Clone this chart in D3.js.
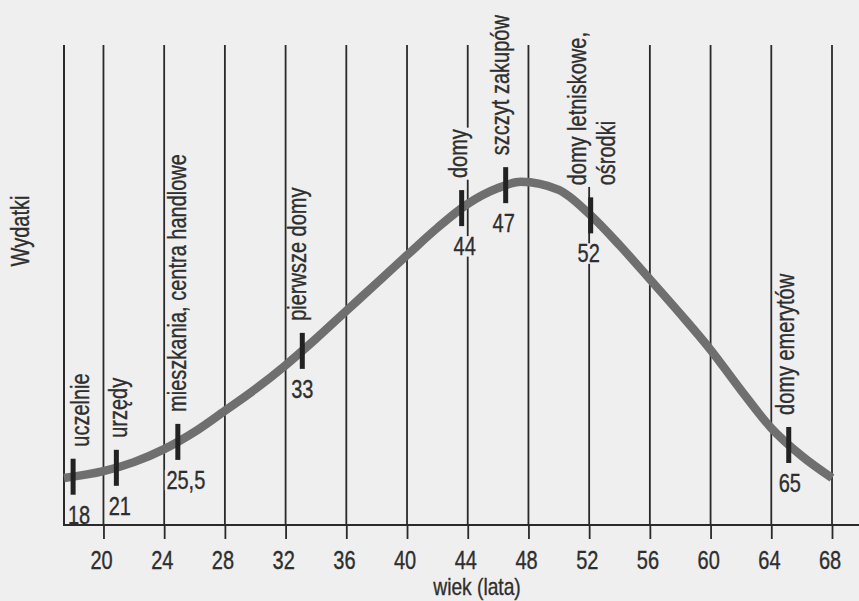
<!DOCTYPE html>
<html>
<head>
<meta charset="utf-8">
<script src="https://cdn.jsdelivr.net/npm/d3@7"></script>
<style>
  html, body { margin: 0; padding: 0; background: #efefef; }
  svg { display: block; }
  text { font-family: "Liberation Sans", Arial, Helvetica, sans-serif; fill: #2e2e2e; stroke: #2e2e2e; stroke-width: 0.35px; }
</style>
</head>
<body>
<svg id="chart" width="859" height="601"></svg>
<script>
// ---- data ----
const ages = [17.4, 20, 22, 24, 26, 28, 30, 32, 34, 36, 38, 40, 42, 44, 46, 47.5, 50, 52, 54, 56, 58, 60, 62, 64, 66, 68];
const spending = [9.8, 11.2, 13.1, 15.8, 19.4, 23.8, 28.3, 33.3, 38.8, 44.6, 50.4, 56.2, 61.9, 66.9, 70.2, 71.5, 69.8, 64.8, 58.3, 51.2, 44.0, 36.5, 28.1, 20.2, 14.4, 9.8];
const tickAges = [20, 24, 28, 32, 36, 40, 44, 48, 52, 56, 60, 64, 68];
const markerAges = [18, 20.85, 24.9, 33.1, 43.6, 46.5, 52.1, 65.15];
const markerNumbers = ["18", "21", "25,5", "33", "44", "47", "52", "65"];
const markerLabels = [["uczelnie"], ["urzędy"], ["mieszkania, centra handlowe"], ["pierwsze domy"], ["domy"], ["szczyt zakupów"], ["domy letniskowe,", "ośrodki"], ["domy emerytów"]];
const xTitle = "wiek (lata)";
const yTitle = "Wydatki";

// ---- layout ----
const W = 859, H = 601;
const FS = 25, SX = 0.8;       // font size and horizontal condensing
const BG = "#efefef";
const labelDx = [10, 5.5, 3, -1.5, 0, -2, -10, 0];
const numberDx = [6, 3.5, 8, 0, 3, -2, -2, 1];

const svg = d3.select("#chart");
svg.append("rect").attr("width", W).attr("height", H).attr("fill", BG);

const x = d3.scaleLinear().domain([17.4, 68]).range([64, 832]);
const y = d3.scaleLinear().domain([0, 100]).range([525, 45]);
const axisY = y(0), topY = y(100);

const gGrid = svg.append("g");
const gKnock = svg.append("g");
const gAxis = svg.append("g");
const gCurve = svg.append("g");
const gMarks = svg.append("g");
const gText = svg.append("g");

// grid lines
gGrid.selectAll("line.v").data(tickAges).join("line")
  .attr("x1", d => x(d)).attr("x2", d => x(d))
  .attr("y1", topY).attr("y2", axisY)
  .attr("stroke", "#2a2a2a").attr("stroke-width", 1.8);
gGrid.append("line")
  .attr("x1", x(17.4)).attr("x2", x(17.4)).attr("y1", topY).attr("y2", axisY)
  .attr("stroke", "#2a2a2a").attr("stroke-width", 2);

// axis
const axis = d3.axisBottom(x).tickValues(tickAges).tickSize(14).tickPadding(12).tickFormat(d3.format("d"));
const ga = gAxis.append("g").attr("transform", `translate(0,${axisY})`).call(axis);
ga.select(".domain").remove();
ga.selectAll(".tick line").attr("stroke", "#2a2a2a").attr("stroke-width", 1.8);
ga.selectAll(".tick text").attr("font-size", FS).attr("fill", "#333")
  .attr("transform", `scale(${SX},1)`).attr("dx", -3)
  .style("font-family", '"Liberation Sans", Arial, sans-serif');
gAxis.append("line").attr("x1", x(17.4) - 1).attr("x2", W).attr("y1", axisY).attr("y2", axisY)
  .attr("stroke", "#2a2a2a").attr("stroke-width", 2.2);

// curve
const pts = ages.map((a, i) => [x(a), y(spending[i])]);
const line = d3.line().curve(d3.curveMonotoneX);
const path = gCurve.append("path").attr("d", line(pts))
  .attr("fill", "none").attr("stroke", "#6f6f6f").attr("stroke-width", 8.5);

const pnode = path.node();
const total = pnode.getTotalLength();
function yAtX(px) {
  let lo = 0, hi = total;
  for (let k = 0; k < 40; k++) {
    const mid = (lo + hi) / 2;
    if (pnode.getPointAtLength(mid).x < px) lo = mid; else hi = mid;
  }
  return pnode.getPointAtLength((lo + hi) / 2).y;
}

const MH = 36;
markerAges.forEach((a, i) => {
  const mx = x(a), my = yAtX(mx);
  const top = my - MH / 2, bot = my + MH / 2;
  gMarks.append("rect").attr("x", mx - 2.5).attr("y", top).attr("width", 5).attr("height", MH)
    .attr("fill", "#222");

  // rotated label
  const lx = mx + labelDx[i], ly = top - 12;
  const tf = `translate(${lx},${ly}) rotate(-90) scale(${SX},1)`;
  const lines = markerLabels[i];
  const g = gText.append("g").attr("transform", tf);
  const kg = gKnock.append("g").attr("transform", tf);
  lines.forEach((t, j) => {
    const base = 5.5 + j * 29;
    const txt = g.append("text").attr("x", 0).attr("y", base).attr("font-size", FS).text(t);
    const len = txt.node().getComputedTextLength();
    kg.append("rect").attr("x", -2).attr("y", base - 0.76 * FS).attr("width", len + 4)
      .attr("height", 0.98 * FS).attr("fill", BG);
  });

  // number below
  const nx = mx + numberDx[i], ny = bot + 29;
  const ng = gText.append("g").attr("transform", `translate(${nx},${ny}) scale(${SX},1)`);
  const nt = ng.append("text").attr("text-anchor", "middle").attr("font-size", FS).text(markerNumbers[i]);
  const nlen = nt.node().getComputedTextLength();
  gKnock.append("rect").attr("transform", `translate(${nx},${ny}) scale(${SX},1)`)
    .attr("x", -nlen / 2 - 2).attr("y", -0.76 * FS).attr("width", nlen + 4).attr("height", 0.82 * FS)
    .attr("fill", BG);
});

// titles
gText.append("g").attr("transform", `translate(477,595.3) scale(${SX},1)`)
  .append("text").attr("text-anchor", "middle").attr("font-size", 24).text(xTitle);
gText.append("g").attr("transform", `translate(29,231) rotate(-90) scale(${SX},1)`)
  .append("text").attr("text-anchor", "middle").attr("font-size", FS).text(yTitle);
</script>
</body>
</html>
